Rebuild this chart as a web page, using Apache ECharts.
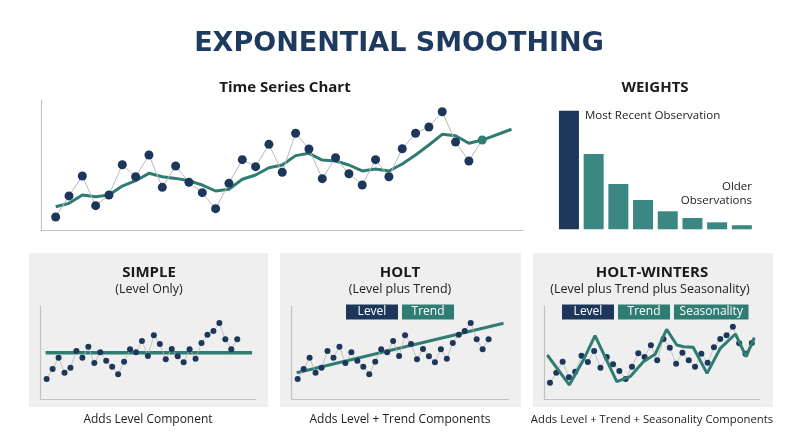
<!DOCTYPE html>
<html><head><meta charset="utf-8">
<script src="https://cdn.jsdelivr.net/npm/echarts@6/dist/echarts.min.js"></script>
<style>html,body{margin:0;padding:0;background:#fff}#c{width:800px;height:447px}</style>
</head><body><div id="c"></div>
<script>
// ---- data ----
const observed = [10,26.2,41.5,18.7,26.9,50.2,41,57.7,32.8,49.2,36.7,28.7,16.4,35.9,54.1,48.7,65.9,44.4,74.4,62.3,39.5,55.6,43.3,34.6,54.1,41,62.5,74.4,79.2,91,67.7,53.1,69.2];
const smoothed = [17.9,20.5,26.9,25.6,26.9,33.8,37.9,43.6,41,39.7,37.9,34.6,30,31.3,39,42.3,47.9,50,57.2,59,53.8,53.1,50,45.4,46.9,45.4,50.8,57.7,65.4,73.6,72.5,66.7,69.2];
const smoothedForecast = [34.2, 77.5];
const weightLabels = ['t','t-1','t-2','t-3','t-4','t-5','t-6','t-7'];
const weights = [49.4,31.4,18.9,12.2,7.5,4.7,2.9,1.7];
const panelPoints = [21.5,32.3,44.4,28.3,33.7,51.6,44.4,56.2,38.7,50.2,41.2,34.7,26.6,40.1,53.4,50.2,62.4,46.2,68.5,59.1,42.7,53.8,45.9,39.5,53.4,43.3,60.2,69.1,73.1,81.7,64.2,53.4,64.2];
const levelX = [-0.17, 34.5];
const levelY = [49.8, 49.8];
const trendX = [-0.17, 34.5];
const trendY = [28.3, 81.4];
const hwPoints = [17.5,28.3,40.1,23.3,29.4,46.6,39.8,51.6,33.7,45.2,37.3,30.1,21.5,34.7,49.1,45.2,57.7,41.6,64.5,55.2,38,49.8,41.6,34.7,48.7,39,55.6,64.5,68.5,77.7,59.9,48.7,60.2];
const seasonX = [-0.43,3.06,5.29,7.14,10.59,12.7,14.8,16.67,18.5,20.1,21.2,22.7,24.9,27,29.4,31.1,32.4];
const seasonY = [47.3,15.1,41.9,68.1,18.6,24,40.1,48.1,74.9,58.1,56.2,55.6,27.6,54.5,69.9,45.5,65.9];
const holtLegend = ['Level','Trend'];
const hwLegend = ['Level','Trend','Seasonality'];

// ---- style ----
const NAVY = '#1d375b';
const TEAL = '#2f7c72';
const BAR_TEAL = '#3b8781';
const GREY_LINE = '#b9b9b9';
const AXIS = '#c2c2c2';
const FONT = '"Open Sans", "Noto Sans", sans-serif';
const TITLE_FONT = '"DejaVu Sans", "Open Sans", sans-serif';

const chart = echarts.init(document.getElementById('c'), null, {renderer:'canvas'});

function valueAxis(gi, min, max, show) {
  return {type:'value', gridIndex:gi, min:min, max:max,
    axisLine:{show:show, onZero:false, lineStyle:{color:AXIS, width:1.2}},
    axisTick:{show:false}, axisLabel:{show:false}, splitLine:{show:false}};
}
const idx = a => a.map((v,i)=>[i,v]);
const pairs = (xs, ys) => xs.map((x,i)=>[x, ys[i]]);

function text(t, x, y, size, weight, color, align, family) {
  return {type:'text', z:100, silent:true,
    style:{text:t, x:x, y:y, fontSize:size, fontWeight:weight||'normal', fontFamily:family||FONT,
      fill:color||'#222', textAlign:align||'center', textVerticalAlign:'middle'}};
}
function legendBoxes(labels, xs, ws, y) {
  const out = [];
  labels.forEach((l,i)=>{
    out.push({type:'rect', z:50, silent:true, shape:{x:xs[i], y:y, width:ws[i], height:15},
      style:{fill: i===0 ? NAVY : TEAL}});
    out.push(text(l, xs[i]+ws[i]/2, y+7.5, 12, 'normal', '#fff'));
  });
  return out;
}

const graphics = [
  {type:'rect', z:-10, silent:true, shape:{x:29,y:253,width:239,height:154}, style:{fill:'#efefef'}},
  {type:'rect', z:-10, silent:true, shape:{x:280,y:253,width:241,height:154}, style:{fill:'#efefef'}},
  {type:'rect', z:-10, silent:true, shape:{x:533,y:253,width:240,height:154}, style:{fill:'#efefef'}},
  text('EXPONENTIAL SMOOTHING', 399, 44, 27, 'bold', '#1f3a5f', 'center', TITLE_FONT),
  text('Time Series Chart', 285, 88, 15, 'bold', '#1a1a1a'),
  text('WEIGHTS', 655, 88, 15, 'bold', '#1a1a1a'),
  text('Most Recent Observation', 585, 116, 11.5, 'normal', '#222', 'left'),
  text('Older', 752, 187, 11.5, 'normal', '#222', 'right'),
  text('Observations', 752, 201, 11.5, 'normal', '#222', 'right'),
  text('SIMPLE', 149, 273, 15, 'bold', '#1a1a1a'),
  text('(Level Only)', 149, 289, 12.5, 'normal', '#222'),
  text('Adds Level Component', 148, 420, 12, 'normal', '#222'),
  text('HOLT', 400, 273, 15, 'bold', '#1a1a1a'),
  text('(Level plus Trend)', 400, 289, 12.5, 'normal', '#222'),
  text('Adds Level + Trend Components', 400, 420, 12, 'normal', '#222'),
  text('HOLT-WINTERS', 652, 273, 15, 'bold', '#1a1a1a'),
  text('(Level plus Trend plus Seasonality)', 650, 289, 12.5, 'normal', '#222'),
  text('Adds Level + Trend + Seasonality Components', 652, 420, 11.3, 'normal', '#222')
].concat(legendBoxes(holtLegend, [346,402], [52,52], 304.5))
 .concat(legendBoxes(hwLegend, [562,618,674], [52,52,74.5], 304.5));

const option = {
  animation:false,
  backgroundColor:'#ffffff',
  graphic:{elements:graphics},
  grid:[
    {left:41, top:100, width:482, height:130},
    {left:556.6, top:109.3, width:197.6, height:120},
    {left:40.7, top:306, width:215, height:93},
    {left:291.7, top:306, width:216.6, height:93},
    {left:544, top:306, width:216, height:93}
  ],
  xAxis:[
    valueAxis(0, -1.1, 35.06, true),
    {type:'category', gridIndex:1, data:weightLabels, show:false},
    valueAxis(2, -1, 35.1, true),
    valueAxis(3, -1, 35.3, true),
    valueAxis(4, -0.95, 33.3, true)
  ],
  yAxis:[
    valueAxis(0, 0, 100, true),
    {type:'value', gridIndex:1, min:0, max:50, show:false, splitLine:{show:false}},
    valueAxis(2, 0, 100, true),
    valueAxis(3, 0, 100, true),
    valueAxis(4, 0, 100, true)
  ],
  series:[
    {type:'line', xAxisIndex:0, yAxisIndex:0, z:2, showSymbol:false,
      data: idx(smoothed).concat([smoothedForecast]),
      lineStyle:{color:TEAL, width:3}},
    {type:'line', xAxisIndex:0, yAxisIndex:0, z:3, symbol:'circle', symbolSize:9,
      data: idx(observed).map((p,i,a)=> i===a.length-1 ? {value:p, itemStyle:{color:TEAL}} : p),
      lineStyle:{color:GREY_LINE, width:1}, itemStyle:{color:NAVY}},
    {type:'bar', xAxisIndex:1, yAxisIndex:1, barWidth:20,
      data: weights.map((w,i)=>({value:w, itemStyle:{color: i===0 ? NAVY : BAR_TEAL}}))},
    // Simple
    {type:'line', xAxisIndex:2, yAxisIndex:2, z:2, showSymbol:false,
      data: pairs(levelX, levelY), lineStyle:{color:TEAL, width:3.5}},
    {type:'line', xAxisIndex:2, yAxisIndex:2, z:3, symbol:'circle', symbolSize:6,
      data: idx(panelPoints), lineStyle:{color:GREY_LINE, width:0.8}, itemStyle:{color:NAVY}},
    // Holt
    {type:'line', xAxisIndex:3, yAxisIndex:3, z:2, showSymbol:false,
      data: pairs(trendX, trendY), lineStyle:{color:TEAL, width:3}},
    {type:'line', xAxisIndex:3, yAxisIndex:3, z:3, symbol:'circle', symbolSize:6,
      data: idx(panelPoints), lineStyle:{color:GREY_LINE, width:0.8}, itemStyle:{color:NAVY}},
    // Holt-Winters
    {type:'line', xAxisIndex:4, yAxisIndex:4, z:2, symbol:'circle', symbolSize:6,
      data: idx(hwPoints), lineStyle:{color:GREY_LINE, width:0.8}, itemStyle:{color:NAVY}},
    {type:'line', xAxisIndex:4, yAxisIndex:4, z:3, showSymbol:false,
      data: pairs(seasonX, seasonY), lineStyle:{color:TEAL, width:3}}
  ]
};
chart.setOption(option);
</script>
</body></html>
